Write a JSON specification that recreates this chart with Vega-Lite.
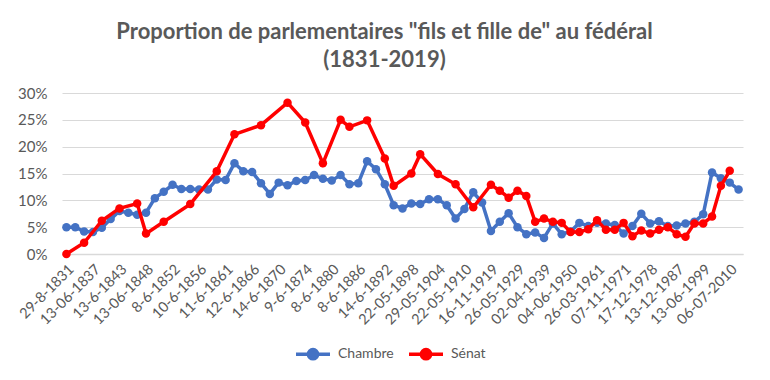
{
 "$schema": "https://vega.github.io/schema/vega-lite/v6.json",
 "width": 681, "height": 161,
 "autosize": {"type": "none"},
 "padding": {"left": 62, "top": 93, "right": 27, "bottom": 126},
 "background": "white",
 "config": {"view": {"stroke": null}, "font": "Lato"},
 "title": {"text": ["Proportion de parlementaires \"fils et fille de\" au fédéral", "(1831-2019)"], "font": "Lato", "fontSize": 22, "fontWeight": "bold", "color": "#595959", "anchor": "middle", "dx": -18, "offset": 14, "lineHeight": 28},
 "data": {"values": [
  {"i":0,"date":"29-8-1831","serie":"Chambre","pct":5.0},
  {"i":1,"date":"23-05-1833","serie":"Chambre","pct":5.0},
  {"i":2,"date":"09-06-1835","serie":"Chambre","pct":4.2},
  {"i":3,"date":"13-06-1837","serie":"Chambre","pct":4.1},
  {"i":4,"date":"11-06-1839","serie":"Chambre","pct":4.9},
  {"i":5,"date":"08-06-1841","serie":"Chambre","pct":6.5},
  {"i":6,"date":"13-6-1843","serie":"Chambre","pct":8.0},
  {"i":7,"date":"10-06-1845","serie":"Chambre","pct":7.7},
  {"i":8,"date":"08-06-1847","serie":"Chambre","pct":7.3},
  {"i":9,"date":"13-06-1848","serie":"Chambre","pct":7.7},
  {"i":10,"date":"11-06-1850","serie":"Chambre","pct":10.4},
  {"i":11,"date":"27-09-1851","serie":"Chambre","pct":11.6},
  {"i":12,"date":"8-6-1852","serie":"Chambre","pct":12.9},
  {"i":13,"date":"13-06-1854","serie":"Chambre","pct":12.1},
  {"i":14,"date":"12-06-1855","serie":"Chambre","pct":12.1},
  {"i":15,"date":"10-6-1856","serie":"Chambre","pct":12.0},
  {"i":16,"date":"10-12-1857","serie":"Chambre","pct":12.0},
  {"i":17,"date":"14-06-1859","serie":"Chambre","pct":13.9},
  {"i":18,"date":"11-6-1861","serie":"Chambre","pct":13.8},
  {"i":19,"date":"09-06-1863","serie":"Chambre","pct":16.9},
  {"i":20,"date":"11-08-1864","serie":"Chambre","pct":15.4},
  {"i":21,"date":"12-6-1866","serie":"Chambre","pct":15.3},
  {"i":22,"date":"09-06-1868","serie":"Chambre","pct":13.2},
  {"i":23,"date":"08-06-1869","serie":"Chambre","pct":11.2},
  {"i":24,"date":"14-6-1870","serie":"Chambre","pct":13.3},
  {"i":25,"date":"02-08-1870","serie":"Chambre","pct":12.8},
  {"i":26,"date":"11-06-1872","serie":"Chambre","pct":13.6},
  {"i":27,"date":"9-6-1874","serie":"Chambre","pct":13.8},
  {"i":28,"date":"13-06-1876","serie":"Chambre","pct":14.7},
  {"i":29,"date":"11-06-1878","serie":"Chambre","pct":14.0},
  {"i":30,"date":"8-6-1880","serie":"Chambre","pct":13.7},
  {"i":31,"date":"13-06-1882","serie":"Chambre","pct":14.7},
  {"i":32,"date":"10-06-1884","serie":"Chambre","pct":13.0},
  {"i":33,"date":"8-6-1886","serie":"Chambre","pct":13.2},
  {"i":34,"date":"12-06-1888","serie":"Chambre","pct":17.3},
  {"i":35,"date":"10-06-1890","serie":"Chambre","pct":15.8},
  {"i":36,"date":"14-6-1892","serie":"Chambre","pct":13.0},
  {"i":37,"date":"14-10-1894","serie":"Chambre","pct":9.1},
  {"i":38,"date":"05-07-1896","serie":"Chambre","pct":8.5},
  {"i":39,"date":"22-05-1898","serie":"Chambre","pct":9.4},
  {"i":40,"date":"27-05-1900","serie":"Chambre","pct":9.3},
  {"i":41,"date":"25-05-1902","serie":"Chambre","pct":10.2},
  {"i":42,"date":"29-05-1904","serie":"Chambre","pct":10.2},
  {"i":43,"date":"27-05-1906","serie":"Chambre","pct":9.1},
  {"i":44,"date":"24-05-1908","serie":"Chambre","pct":6.6},
  {"i":45,"date":"22-05-1910","serie":"Chambre","pct":8.4},
  {"i":46,"date":"02-06-1912","serie":"Chambre","pct":11.5},
  {"i":47,"date":"24-05-1914","serie":"Chambre","pct":9.6},
  {"i":48,"date":"16-11-1919","serie":"Chambre","pct":4.3},
  {"i":49,"date":"20-11-1921","serie":"Chambre","pct":6.0},
  {"i":50,"date":"05-04-1925","serie":"Chambre","pct":7.6},
  {"i":51,"date":"26-05-1929","serie":"Chambre","pct":5.0},
  {"i":52,"date":"27-11-1932","serie":"Chambre","pct":3.7},
  {"i":53,"date":"24-05-1936","serie":"Chambre","pct":4.0},
  {"i":54,"date":"02-04-1939","serie":"Chambre","pct":3.0},
  {"i":55,"date":"17-02-1946","serie":"Chambre","pct":5.7},
  {"i":56,"date":"26-06-1949","serie":"Chambre","pct":3.7},
  {"i":57,"date":"04-06-1950","serie":"Chambre","pct":4.2},
  {"i":58,"date":"11-04-1954","serie":"Chambre","pct":5.8},
  {"i":59,"date":"01-06-1958","serie":"Chambre","pct":5.2},
  {"i":60,"date":"26-03-1961","serie":"Chambre","pct":5.8},
  {"i":61,"date":"23-05-1965","serie":"Chambre","pct":5.7},
  {"i":62,"date":"31-03-1968","serie":"Chambre","pct":5.4},
  {"i":63,"date":"07-11-1971","serie":"Chambre","pct":3.8},
  {"i":64,"date":"10-03-1974","serie":"Chambre","pct":5.2},
  {"i":65,"date":"17-04-1977","serie":"Chambre","pct":7.5},
  {"i":66,"date":"17-12-1978","serie":"Chambre","pct":5.7},
  {"i":67,"date":"08-11-1981","serie":"Chambre","pct":6.1},
  {"i":68,"date":"13-10-1985","serie":"Chambre","pct":5.2},
  {"i":69,"date":"13-12-1987","serie":"Chambre","pct":5.3},
  {"i":70,"date":"24-11-1991","serie":"Chambre","pct":5.7},
  {"i":71,"date":"21-05-1995","serie":"Chambre","pct":6.0},
  {"i":72,"date":"13-06-1999","serie":"Chambre","pct":7.4},
  {"i":73,"date":"18-05-2003","serie":"Chambre","pct":15.2},
  {"i":74,"date":"10-06-2007","serie":"Chambre","pct":14.1},
  {"i":75,"date":"06-07-2010","serie":"Chambre","pct":13.3},
  {"i":76,"date":"25-05-2014","serie":"Chambre","pct":12.0},
  {"i":0,"date":"29-8-1831","serie":"Sénat","pct":0.0},
  {"i":2,"date":"09-06-1835","serie":"Sénat","pct":2.1},
  {"i":4,"date":"11-06-1839","serie":"Sénat","pct":6.2},
  {"i":6,"date":"13-6-1843","serie":"Sénat","pct":8.5},
  {"i":8,"date":"08-06-1847","serie":"Sénat","pct":9.4},
  {"i":9,"date":"13-06-1848","serie":"Sénat","pct":3.8},
  {"i":11,"date":"27-09-1851","serie":"Sénat","pct":6.0},
  {"i":14,"date":"12-06-1855","serie":"Sénat","pct":9.3},
  {"i":17,"date":"14-06-1859","serie":"Sénat","pct":15.4},
  {"i":19,"date":"09-06-1863","serie":"Sénat","pct":22.3},
  {"i":22,"date":"09-06-1868","serie":"Sénat","pct":24.0},
  {"i":25,"date":"02-08-1870","serie":"Sénat","pct":28.2},
  {"i":27,"date":"9-6-1874","serie":"Sénat","pct":24.5},
  {"i":29,"date":"11-06-1878","serie":"Sénat","pct":16.9},
  {"i":31,"date":"13-06-1882","serie":"Sénat","pct":25.0},
  {"i":32,"date":"10-06-1884","serie":"Sénat","pct":23.7},
  {"i":34,"date":"12-06-1888","serie":"Sénat","pct":24.9},
  {"i":36,"date":"14-6-1892","serie":"Sénat","pct":17.8},
  {"i":37,"date":"14-10-1894","serie":"Sénat","pct":12.7},
  {"i":39,"date":"22-05-1898","serie":"Sénat","pct":15.0},
  {"i":40,"date":"27-05-1900","serie":"Sénat","pct":18.6},
  {"i":42,"date":"29-05-1904","serie":"Sénat","pct":14.9},
  {"i":44,"date":"24-05-1908","serie":"Sénat","pct":13.0},
  {"i":46,"date":"02-06-1912","serie":"Sénat","pct":8.7},
  {"i":48,"date":"16-11-1919","serie":"Sénat","pct":12.9},
  {"i":49,"date":"20-11-1921","serie":"Sénat","pct":11.8},
  {"i":50,"date":"05-04-1925","serie":"Sénat","pct":10.5},
  {"i":51,"date":"26-05-1929","serie":"Sénat","pct":11.8},
  {"i":52,"date":"27-11-1932","serie":"Sénat","pct":10.8},
  {"i":53,"date":"24-05-1936","serie":"Sénat","pct":6.0},
  {"i":54,"date":"02-04-1939","serie":"Sénat","pct":6.6},
  {"i":55,"date":"17-02-1946","serie":"Sénat","pct":6.0},
  {"i":56,"date":"26-06-1949","serie":"Sénat","pct":5.8},
  {"i":57,"date":"04-06-1950","serie":"Sénat","pct":4.1},
  {"i":58,"date":"11-04-1954","serie":"Sénat","pct":4.1},
  {"i":59,"date":"01-06-1958","serie":"Sénat","pct":4.6},
  {"i":60,"date":"26-03-1961","serie":"Sénat","pct":6.3},
  {"i":61,"date":"23-05-1965","serie":"Sénat","pct":4.5},
  {"i":62,"date":"31-03-1968","serie":"Sénat","pct":4.5},
  {"i":63,"date":"07-11-1971","serie":"Sénat","pct":5.8},
  {"i":64,"date":"10-03-1974","serie":"Sénat","pct":3.3},
  {"i":65,"date":"17-04-1977","serie":"Sénat","pct":4.4},
  {"i":66,"date":"17-12-1978","serie":"Sénat","pct":3.8},
  {"i":67,"date":"08-11-1981","serie":"Sénat","pct":4.5},
  {"i":68,"date":"13-10-1985","serie":"Sénat","pct":5.0},
  {"i":69,"date":"13-12-1987","serie":"Sénat","pct":3.7},
  {"i":70,"date":"24-11-1991","serie":"Sénat","pct":3.2},
  {"i":71,"date":"21-05-1995","serie":"Sénat","pct":5.7},
  {"i":72,"date":"13-06-1999","serie":"Sénat","pct":5.7},
  {"i":73,"date":"18-05-2003","serie":"Sénat","pct":7.0},
  {"i":74,"date":"10-06-2007","serie":"Sénat","pct":12.7},
  {"i":75,"date":"06-07-2010","serie":"Sénat","pct":15.5}
 ]},
 "encoding": {
  "x": {"field": "date", "type": "ordinal", "sort": {"field": "i", "op": "min"},
        "scale": {"type": "point", "padding": 0.5},
        "axis": {"title": null, "values": ["29-8-1831","13-06-1837","13-6-1843","13-06-1848","8-6-1852","10-6-1856","11-6-1861","12-6-1866","14-6-1870","9-6-1874","8-6-1880","8-6-1886","14-6-1892","22-05-1898","29-05-1904","22-05-1910","16-11-1919","26-05-1929","02-04-1939","04-06-1950","26-03-1961","07-11-1971","17-12-1978","13-12-1987","13-06-1999","06-07-2010"],
                 "labelAngle": -45, "ticks": false, "grid": false, "domainColor": "#d9d9d9", "domainWidth": 1.5,
                 "labelColor": "#595959", "labelFont": "Lato", "labelFontSize": 14.5, "labelPadding": 8, "labelOverlap": false}},
  "y": {"field": "pct", "type": "quantitative", "scale": {"domain": [0, 30]},
        "axis": {"title": null, "values": [0,5,10,15,20,25,30], "labelExpr": "datum.value + '%'", "domain": false, "ticks": false,
                 "gridColor": "#d9d9d9", "labelColor": "#595959", "labelFont": "Lato", "labelFontSize": 15, "labelPadding": 15}},
  "color": {"field": "serie", "type": "nominal", "scale": {"domain": ["Chambre", "Sénat"], "range": ["#4472C4", "#FF0000"]},
            "legend": {"title": null, "orient": "none", "legendX": 232, "legendY": 242, "direction": "horizontal",
                       "symbolType": "M-1,0H1M0.27,0A0.27,0.27,0,1,1,-0.27,0A0.27,0.27,0,1,1,0.27,0Z", "symbolSize": 1156, "symbolStrokeWidth": 3.5,
                       "labelFont": "Lato", "labelFontSize": 14, "labelColor": "#595959", "labelOffset": 6, "columnPadding": 8,
                       "encode": {"symbols": {"update": {"fill": {"scale": "color", "field": "value"}, "stroke": {"scale": "color", "field": "value"}, "fillOpacity": {"value": 1}}}}}},
  "order": {"field": "i", "type": "quantitative"}
 },
 "layer": [
  {"transform": [{"filter": "datum.serie === 'Chambre'"}], "mark": {"type": "line", "strokeWidth": 3.5, "point": {"filled": true, "size": 72, "opacity": 1}}},
  {"transform": [{"filter": "datum.serie === 'Sénat'"}], "mark": {"type": "line", "strokeWidth": 3.5, "point": {"filled": true, "size": 72, "opacity": 1}}}
 ]
}
